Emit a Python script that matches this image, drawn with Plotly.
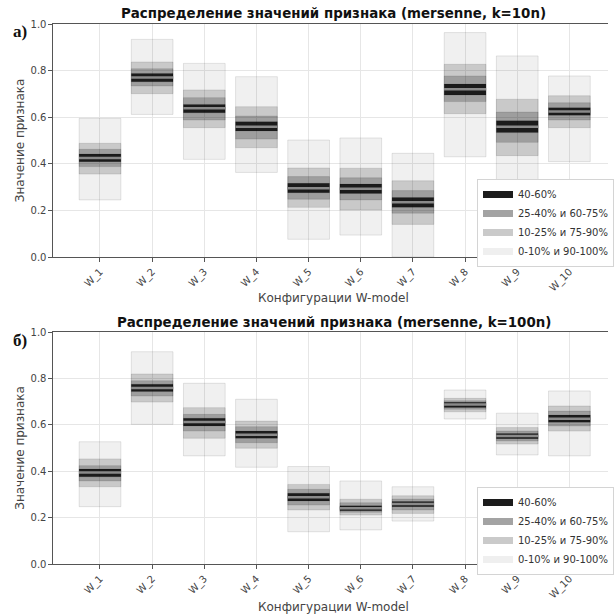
import plotly.graph_objects as go

cats = ["W_1", "W_2", "W_3", "W_4", "W_5", "W_6", "W_7", "W_8", "W_9", "W_10"]

# Panel a) mersenne, k=10n  (percentiles)
a_p0 = [0.245, 0.612, 0.419, 0.363, 0.076, 0.094, 0.000, 0.430, 0.220, 0.409]
a_p10 = [0.356, 0.701, 0.555, 0.469, 0.213, 0.202, 0.140, 0.615, 0.435, 0.555]
a_p25 = [0.388, 0.734, 0.588, 0.506, 0.248, 0.245, 0.188, 0.667, 0.492, 0.588]
a_p40 = [0.409, 0.752, 0.619, 0.541, 0.276, 0.273, 0.213, 0.695, 0.534, 0.608]
a_p50 = [0.425, 0.770, 0.638, 0.559, 0.295, 0.293, 0.235, 0.720, 0.559, 0.624]
a_p60 = [0.442, 0.788, 0.655, 0.581, 0.316, 0.313, 0.255, 0.742, 0.585, 0.641]
a_p75 = [0.462, 0.808, 0.684, 0.605, 0.345, 0.340, 0.285, 0.777, 0.622, 0.662]
a_p90 = [0.488, 0.837, 0.717, 0.645, 0.382, 0.381, 0.327, 0.827, 0.677, 0.692]
a_p100 = [0.595, 0.934, 0.831, 0.774, 0.502, 0.511, 0.445, 0.963, 0.863, 0.777]

# Panel b) mersenne, k=100n
b_p0 = [0.247, 0.602, 0.466, 0.417, 0.139, 0.147, 0.185, 0.625, 0.470, 0.466]
b_p10 = [0.333, 0.698, 0.542, 0.499, 0.233, 0.211, 0.218, 0.656, 0.517, 0.573]
b_p25 = [0.358, 0.724, 0.573, 0.523, 0.254, 0.223, 0.233, 0.667, 0.530, 0.595]
b_p40 = [0.376, 0.743, 0.595, 0.542, 0.272, 0.230, 0.247, 0.675, 0.540, 0.611]
b_p50 = [0.394, 0.759, 0.612, 0.557, 0.288, 0.240, 0.259, 0.688, 0.552, 0.626]
b_p60 = [0.409, 0.775, 0.628, 0.573, 0.305, 0.251, 0.269, 0.697, 0.563, 0.642]
b_p75 = [0.424, 0.790, 0.645, 0.592, 0.322, 0.264, 0.280, 0.704, 0.573, 0.659]
b_p90 = [0.453, 0.819, 0.674, 0.616, 0.343, 0.279, 0.294, 0.714, 0.588, 0.681]
b_p100 = [0.527, 0.915, 0.779, 0.710, 0.420, 0.358, 0.333, 0.750, 0.650, 0.746]

band_names = ["0-10% и 90-100%", "10-25% и 75-90%", "25-40% и 60-75%", "40-60%"]
band_fill = ["rgba(0,0,0,0.06)", "rgba(0,0,0,0.16)", "rgba(0,0,0,0.21)", "rgba(0,0,0,0.83)"]
legend_colors = {"40-60%": "#1c1c1c", "25-40% и 60-75%": "#a3a3a3",
                 "10-25% и 75-90%": "#cacaca", "0-10% и 90-100%": "#efefef"}

W, H = 614, 616
fig = go.Figure()

panels = [
    dict(xa="x", ya="y", legend="legend",
         lo=[a_p0, a_p10, a_p25, a_p40], hi=[a_p100, a_p90, a_p75, a_p60], med=a_p50),
    dict(xa="x2", ya="y2", legend="legend2",
         lo=[b_p0, b_p10, b_p25, b_p40], hi=[b_p100, b_p90, b_p75, b_p60], med=b_p50),
]

for p in panels:
    for name, fill, lo, hi in zip(band_names, band_fill, p["lo"], p["hi"]):
        fig.add_trace(go.Bar(
            x=cats, base=lo, y=[h - l for h, l in zip(hi, lo)],
            width=0.8, marker=dict(color=fill, line=dict(color="rgba(0,0,0,0.10)", width=1)),
            xaxis=p["xa"], yaxis=p["ya"], showlegend=False, name=name, hoverinfo="skip"))
    fig.add_trace(go.Scatter(
        x=cats, y=p["med"], mode="markers", xaxis=p["xa"], yaxis=p["ya"],
        marker=dict(symbol="line-ew", size=30, line=dict(color="#8a8a8a", width=2.5)),
        showlegend=False, hoverinfo="skip"))
    for name in ["40-60%", "25-40% и 60-75%", "10-25% и 75-90%", "0-10% и 90-100%"]:
        fig.add_trace(go.Scatter(
            x=[None], y=[None], mode="lines", name=name, xaxis=p["xa"], yaxis=p["ya"],
            line=dict(color=legend_colors[name], width=7), legend=p["legend"]))

x0 = 54 / W
xrange = [-0.892, 9.74]
axis_common = dict(showline=True, linecolor="#555555", linewidth=1, showgrid=True,
                   gridcolor="#e6e6e6", gridwidth=1, ticks="outside", ticklen=4,
                   tickcolor="#555555", tickfont=dict(family="DejaVu Sans", size=10, color="#444444"),
                   zeroline=False, automargin=False)

def ydom(top_px, bot_px):
    return [1 - bot_px / H, 1 - top_px / H]

leg_common = dict(xanchor="left", yanchor="top", bgcolor="white", bordercolor="#d4d4d4",
                  borderwidth=1, font=dict(family="DejaVu Sans", size=10, color="#333333"),
                  tracegroupgap=0, itemwidth=30)

fig.update_layout(
    width=W, height=H, margin=dict(l=0, r=0, t=0, b=0),
    paper_bgcolor="white", plot_bgcolor="white", barmode="overlay",
    xaxis=dict(domain=[x0, 1.0], anchor="y", type="category", range=xrange,
               tickangle=-45, mirror=True, **axis_common),
    yaxis=dict(domain=ydom(24, 257), anchor="x", range=[0, 1.0],
               tickvals=[0, 0.2, 0.4, 0.6, 0.8, 1.0], tickformat=".1f", **axis_common),
    xaxis2=dict(domain=[x0, 1.0], anchor="y2", type="category", range=xrange,
                tickangle=-45, mirror=True, **axis_common),
    yaxis2=dict(domain=ydom(332, 564), anchor="x2", range=[0, 1.0],
                tickvals=[0, 0.2, 0.4, 0.6, 0.8, 1.0], tickformat=".1f", **axis_common),
    legend=dict(x=482 / W, y=1 - 179 / H, **leg_common),
    legend2=dict(x=482 / W, y=1 - 487 / H, **leg_common),
    showlegend=True,
)

title_font = dict(family="DejaVu Sans", size=13.4, color="#111111")
lab_font = dict(family="DejaVu Sans", size=12, color="#444444")
panel_font = dict(family="Liberation Serif", size=17, color="#111111")
cx = 337 / W

def note(text, xp, yp, font, angle=0):
    return dict(text=text, x=xp / W, y=1 - yp / H, xref="paper", yref="paper",
                xanchor="center", yanchor="middle", showarrow=False, font=font,
                textangle=angle)

ann = [
    note("<b>Распределение значений признака (mersenne, k=10n)</b>", 337, 14, title_font),
    note("<b>Распределение значений признака (mersenne, k=100n)</b>", 337, 322, title_font),
    note("Конфигурации W-model", 337, 298, lab_font),
    note("Конфигурации W-model", 337, 607, lab_font),
    note("Значение признака", 20, 140.5, lab_font, -90),
    note("Значение признака", 20, 448, lab_font, -90),
    note("<b>а)</b>", 20, 31, panel_font),
    note("<b>б)</b>", 20, 340, panel_font),
]
fig.update_layout(annotations=ann)

fig.write_html("out.html")
